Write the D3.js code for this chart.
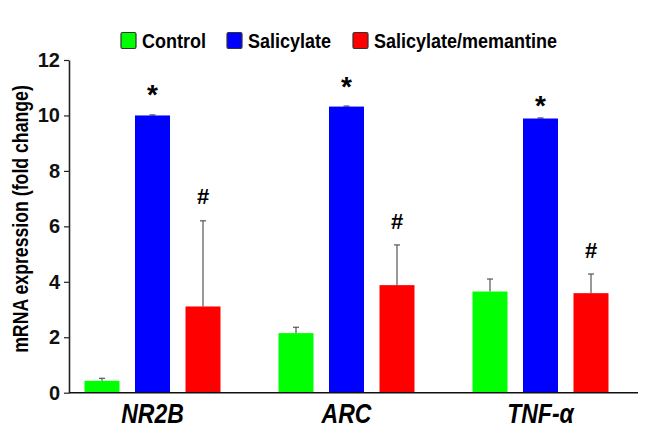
<!DOCTYPE html>
<html><head><meta charset="utf-8">
<script src="https://cdn.jsdelivr.net/npm/d3@7"></script>
<style>body{margin:0;background:#fff;}svg{display:block;font-family:"Liberation Sans",Arial,sans-serif;}</style>
</head><body>
<svg id="c" width="668" height="446"></svg>
<script>
const genes = ["NR2B", "ARC", "TNF-α"];
const series = ["Control", "Salicylate", "Salicylate/memantine"];
const colors = ["#00ff00", "#0000ff", "#ff0000"];
const control = [0.43, 2.15, 3.65];
const controlErr = [0.09, 0.21, 0.45];
const salicylate = [10.0, 10.32, 9.89];
const salicylateErr = [0.02, 0.02, 0.02];
const salMem = [3.11, 3.88, 3.59];
const salMemErr = [3.09, 1.45, 0.69];
const starLevel = [10.88, 11.18, 10.5];
const hashLevel = [7.08, 6.18, 5.16];
const yTicks = [0, 2, 4, 6, 8, 10, 12];

const svg = d3.select("#c");
const mLeft = 69, mRight = 638, mTop = 60, mBottom = 392.7;
const y = d3.scaleLinear().domain([0, 12]).range([mBottom, mTop]);
const x0 = d3.scaleBand().domain(genes).range([55.5, 637.5]);
const x1 = d3.scaleBand().domain(series).range([-68, 68]).paddingInner(0.307);

const values = [control, salicylate, salMem];
const errs = [controlErr, salicylateErr, salMemErr];
const rows = [];
genes.forEach((g, gi) => series.forEach((s, si) => rows.push({g, s, si, v: values[si][gi], e: errs[si][gi]})));
const cx = d => x0(d.g) + x0.bandwidth() / 2 + x1(d.s);

// error bars (upper only)
const eg = svg.append("g").attr("stroke", "#555").attr("stroke-width", 1.2);
rows.forEach(d => {
  const xc = cx(d) + x1.bandwidth() / 2;
  eg.append("line").attr("x1", xc).attr("x2", xc).attr("y1", y(d.v)).attr("y2", y(d.v + d.e));
  eg.append("line").attr("x1", xc - 3).attr("x2", xc + 3).attr("y1", y(d.v + d.e)).attr("y2", y(d.v + d.e));
});

svg.append("g").selectAll("rect").data(rows).join("rect")
  .attr("x", d => cx(d)).attr("width", x1.bandwidth())
  .attr("y", d => y(d.v)).attr("height", d => y(0) - y(d.v))
  .attr("fill", d => colors[d.si]);

// y axis
const ya = svg.append("g").attr("transform", `translate(${mLeft},0)`)
  .call(d3.axisLeft(y).tickValues(yTicks).tickSize(5).tickSizeOuter(0).tickFormat(d3.format("d")));
ya.select(".domain").attr("stroke", "#222").attr("stroke-width", 1.6);
ya.selectAll(".tick line").attr("stroke", "#222").attr("stroke-width", 1.2);
ya.selectAll(".tick text").attr("font-size", 20).attr("font-weight", "bold").attr("fill", "#111")
  .attr("font-family", "Liberation Sans, Arial, sans-serif").attr("x", -9);

// x axis line
svg.append("line").attr("x1", mLeft).attr("x2", mRight).attr("y1", y(0)).attr("y2", y(0))
  .attr("stroke", "#111").attr("stroke-width", 1.6);

// x labels
svg.append("g").selectAll("text").data(genes).join("text")
  .attr("transform", d => `translate(${x0(d) + x0.bandwidth() / 2},423) scale(1,1.2)`)
  .attr("text-anchor", "middle").attr("font-size", 23).attr("font-weight", "bold")
  .attr("font-style", "italic").attr("fill", "#000").text(d => d);

// annotations
svg.append("g").selectAll("text").data(genes).join("text")
  .attr("x", d => x0(d) + x0.bandwidth() / 2 + x1("Salicylate") + x1.bandwidth() / 2)
  .attr("y", (d, i) => y(starLevel[i]) + 13)
  .attr("text-anchor", "middle").attr("font-size", 28).attr("font-weight", "bold").text("*");
svg.append("g").selectAll("text").data(genes).join("text")
  .attr("x", d => x0(d) + x0.bandwidth() / 2 + x1("Salicylate/memantine") + x1.bandwidth() / 2)
  .attr("y", (d, i) => y(hashLevel[i]) + 8)
  .attr("text-anchor", "middle").attr("font-size", 22).attr("font-weight", "bold").text("#");

// y title
svg.append("text").attr("transform", `translate(27.5,219) rotate(-90) scale(1,1.22)`)
  .attr("text-anchor", "middle").attr("font-size", 17.7).attr("font-weight", "bold").attr("fill", "#000")
  .text("mRNA expression (fold change)");

// legend
const legX = [121, 227, 353];
const lg = svg.append("g");
series.forEach((s, i) => {
  lg.append("rect").attr("x", legX[i]).attr("y", 32.5).attr("width", 15).attr("height", 16)
    .attr("fill", colors[i]).attr("stroke", "#333").attr("stroke-width", 1.2).attr("rx", 1.5);
  lg.append("text").attr("transform", `translate(${legX[i] + 21},48) scale(1,1.15)`)
    .attr("font-size", 18).attr("font-weight", "bold")
    .attr("fill", "#000").text(s);
});
</script>
</body></html>
